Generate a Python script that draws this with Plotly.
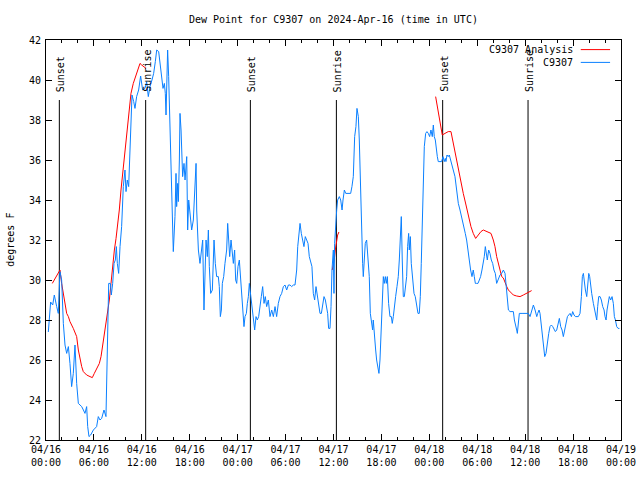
import plotly.graph_objects as go
import pandas as pd

START = pd.Timestamp("2024-04-16 00:00")
END = pd.Timestamp("2024-04-19 00:00")

# ---- observed dew point C9307 (hours since 2024-04-16 00:00 UTC, deg F)
obs_hours = [
    0.29, 0.45, 0.58, 0.84, 1.04, 1.34, 1.54, 1.75, 1.96, 2.17,
    2.38, 2.59, 2.80, 3.0, 3.21, 3.42, 3.63, 3.84, 4.05, 4.26,
    4.47, 4.68, 4.88, 5.09, 5.22, 5.38, 5.59, 5.93, 6.34, 6.55,
    6.76, 6.97, 7.26, 7.51, 7.59, 7.72, 7.85, 8.06, 8.18, 8.35,
    8.52, 8.68, 8.81, 8.93, 9.1, 9.27, 9.47, 9.68, 9.89, 10.02,
    10.18, 10.35, 10.48, 10.6, 10.77, 10.98, 11.14, 11.35, 11.6, 11.85,
    12.1, 12.4, 12.6, 12.81, 13.02, 13.27, 13.48, 13.69, 13.86, 14.11,
    14.27, 14.48, 14.65, 14.82, 14.94, 15.03, 15.11, 15.23, 15.36, 15.53,
    15.65, 15.82, 15.94, 16.07, 16.15, 16.28, 16.36, 16.49, 16.57, 16.7,
    16.78, 16.91, 16.99, 17.11, 17.28, 17.41, 17.62, 17.74, 17.87, 18.03,
    18.24, 18.45, 18.66, 18.79, 18.87, 19.08, 19.28, 19.49, 19.62, 19.78,
    19.91, 20.04, 20.2, 20.33, 20.45, 20.62, 20.83, 21.04, 21.2, 21.37,
    21.58, 21.7, 21.83, 21.96, 22.08, 22.25, 22.41, 22.62, 22.75, 22.87,
    23.0, 23.17, 23.33, 23.46, 23.62, 23.75, 23.88, 24.04, 24.21, 24.33,
    24.46, 24.63, 24.79, 24.92, 25.09, 25.21, 25.34, 25.46, 25.63, 25.8,
    25.96, 26.13, 26.3, 26.46, 26.63, 26.8, 26.96, 27.13, 27.3, 27.46,
    27.63, 27.84, 28.05, 28.26, 28.47, 28.68, 28.88, 29.09, 29.3, 29.51,
    29.72, 29.93, 30.14, 30.35, 30.56, 30.76, 30.97, 31.18, 31.39, 31.52,
    31.68, 31.81, 31.97, 32.14, 32.3, 32.47, 32.64, 32.81, 32.97, 33.14,
    33.3, 33.47, 33.64, 33.81, 33.98, 34.14, 34.31, 34.48, 34.64, 34.81,
    34.98, 35.15, 35.27, 35.39, 35.56, 35.69, 35.81, 35.98, 36.06, 36.14,
    36.27, 36.4, 36.52, 36.73, 36.9, 37.07, 37.19, 37.36, 37.53, 37.73,
    37.94, 38.15, 38.31, 38.48, 38.65, 38.81, 38.94, 39.11, 39.23, 39.4,
    39.52, 39.65, 39.73, 39.86, 39.98, 40.15, 40.32, 40.48, 40.61, 40.78,
    40.9, 40.98, 41.11, 41.28, 41.4, 41.53, 41.69, 41.82, 41.94, 42.11,
    42.24, 42.36, 42.49, 42.61, 42.74, 42.9, 43.07, 43.24, 43.36, 43.49,
    43.61, 43.78, 43.95, 44.11, 44.24, 44.36, 44.49, 44.61, 44.74, 44.87,
    44.99, 45.16, 45.28, 45.41, 45.49, 45.62, 45.74, 45.91, 46.08, 46.24,
    46.41, 46.58, 46.74, 46.87, 46.99, 47.12, 47.24, 47.37, 47.54, 47.7,
    47.87, 48.04, 48.2, 48.37, 48.5, 48.62, 48.75, 48.87, 49.0, 49.12,
    49.33, 49.54, 49.71, 49.87, 50.0, 50.08, 50.21, 50.37, 50.5, 50.67,
    50.83, 51.0, 51.21, 51.42, 51.63, 51.84, 52.0, 52.17, 52.34, 52.5,
    52.67, 52.84, 53.0, 53.17, 53.34, 53.5, 53.63, 53.76, 53.92, 54.09,
    54.26, 54.42, 54.59, 54.76, 54.88, 55.01, 55.13, 55.26, 55.43, 55.59,
    55.76, 55.93, 56.09, 56.26, 56.43, 56.59, 56.76, 56.85, 57.06, 57.27,
    57.48, 57.61, 57.77, 57.9, 58.11, 58.31, 58.52, 58.65, 58.77, 58.94,
    59.02, 59.15, 59.27, 59.61, 59.98, 60.4, 60.61, 60.82, 61.03, 61.24,
    61.45, 61.57, 61.74, 61.86, 61.99, 62.11, 62.28, 62.45, 62.61, 62.78,
    62.95, 63.11, 63.28, 63.45, 63.62, 63.78, 63.95, 64.12, 64.28, 64.45,
    64.62, 64.78, 64.95, 65.12, 65.29, 65.45, 65.62, 65.79, 65.95, 66.12,
    66.29, 66.66, 66.87, 67.04, 67.16, 67.29, 67.41, 67.54, 67.71, 67.83,
    67.96, 68.08, 68.21, 68.33, 68.54, 68.67, 68.83, 68.96, 69.08, 69.21,
    69.38, 69.54, 69.71, 69.88, 70.0, 70.13, 70.25, 70.38, 70.54, 70.71,
    70.88, 71.04, 71.17, 71.3, 71.46, 71.63, 71.8,
]
obs_dewpt = [
    27.4, 28.3, 28.9, 28.75, 29.25, 28.67, 28.33, 30.42, 30.0, 27.83,
    26.75, 26.33, 26.67, 25.83, 24.67, 25.33, 26.75, 24.83, 23.83, 23.75,
    23.67, 23.5, 23.33, 23.67, 22.67, 22.17, 22.25, 22.5, 22.67, 23.17,
    23.0, 23.08, 23.5, 23.17, 24.83, 28.25, 29.83, 29.83, 29.25, 29.83,
    30.83, 31.0, 31.67, 30.83, 30.33, 31.67, 32.67, 34.67, 35.5, 34.42,
    35.0, 34.67, 36.17, 38.17, 39.25, 38.92, 38.58, 39.17, 39.5, 40.2,
    39.5, 39.58, 39.92, 39.17, 39.67, 40.0, 40.33, 40.92, 41.5, 41.42,
    40.83, 39.92, 39.58, 39.83, 39.33, 38.25, 39.17, 41.5, 40.17, 37.67,
    35.83, 32.5, 31.42, 32.5, 33.17, 35.33, 33.67, 34.83, 33.92, 36.0,
    38.33, 37.5, 36.17, 35.17, 35.83, 35.0, 36.17, 32.5, 34.0, 33.33,
    32.5, 33.0, 34.83, 35.83, 33.5, 31.5, 30.83, 31.67, 32.0, 28.5,
    29.83, 32.0, 31.17, 32.5, 30.67, 29.33, 29.5, 32.0, 30.83, 30.17,
    30.17, 29.67, 28.17, 28.5, 29.83, 30.17, 30.83, 31.5, 32.83, 32.17,
    31.17, 32.0, 31.5, 30.83, 31.5, 30.0, 29.83, 30.67, 31.0, 30.33,
    29.67, 29.0, 27.67, 28.17, 28.33, 28.83, 29.17, 29.83, 29.17, 28.67,
    27.83, 27.5, 28.17, 28.0, 28.17, 28.83, 29.17, 29.67, 28.83, 29.17,
    28.67, 29.0, 28.17, 28.5, 28.17, 28.67, 28.17, 28.83, 29.17, 29.33,
    29.67, 29.75, 29.5, 29.75, 29.75, 29.67, 29.75, 29.75, 30.5, 31.67,
    32.5, 32.83, 32.33, 32.0, 31.67, 32.17, 32.0, 31.83, 31.17, 30.83,
    30.67, 29.33, 29.0, 29.67, 29.17, 28.67, 28.33, 28.33, 28.67, 29.17,
    29.0, 28.5, 28.33, 27.58, 27.58, 28.67, 30.5, 31.5, 29.33, 31.83,
    32.83, 33.5, 34.0, 34.17, 34.0, 33.5, 34.0, 34.5, 34.33, 34.33,
    34.33, 34.33, 34.67, 35.17, 37.17, 37.67, 38.58, 38.17, 37.0, 33.83,
    32.0, 30.83, 30.17, 31.0, 31.83, 32.0, 31.17, 30.17, 28.33, 27.83,
    27.5, 28.0, 27.17, 26.5, 26.0, 25.67, 25.33, 26.0, 27.5, 29.17,
    30.17, 29.83, 30.17, 29.83, 30.17, 28.83, 28.17, 28.17, 27.83, 28.17,
    28.67, 29.17, 29.67, 30.17, 31.0, 32.5, 33.17, 31.0, 29.17, 29.17,
    29.5, 30.17, 31.67, 32.33, 31.5, 32.17, 30.83, 29.83, 29.33, 29.17,
    28.83, 28.33, 28.33, 29.17, 30.83, 33.17, 35.33, 36.67, 37.33, 37.42,
    37.33, 37.17, 37.5, 37.17, 37.75, 37.17, 37.0, 36.5, 36.17, 35.92,
    35.92, 35.92, 36.17, 35.92, 36.08, 35.92, 36.25, 36.17, 36.25, 36.0,
    35.83, 35.5, 35.17, 34.5, 33.83, 33.5, 33.17, 32.83, 32.5, 32.33,
    32.0, 31.5, 30.83, 30.5, 30.17, 30.5, 30.17, 29.83, 29.83, 29.83,
    30.0, 30.17, 30.5, 30.83, 31.17, 31.67, 31.33, 31.0, 31.5, 31.33,
    31.0, 30.83, 30.5, 30.33, 29.83, 30.0, 30.17, 30.25, 30.33, 30.5,
    30.33, 29.67, 29.17, 28.5, 28.42, 28.42, 28.42, 28.0, 27.83, 27.5,
    27.33, 28.0, 28.33, 28.33, 28.33, 28.33, 28.17, 28.5, 28.75, 28.5,
    28.17, 28.33, 28.5, 28.33, 27.83, 27.33, 26.5, 26.17, 26.33, 27.0,
    27.33, 27.67, 27.75, 27.67, 27.5, 27.42, 27.5, 27.83, 28.08, 27.67,
    27.5, 27.17, 27.5, 27.83, 28.17, 28.25, 28.33, 28.17, 28.42, 28.25,
    28.17, 28.17, 28.33, 29.17, 30.17, 30.33, 29.83, 29.5, 29.17, 29.83,
    30.33, 30.17, 29.67, 29.33, 28.83, 28.5, 28.17, 28.0, 28.67, 29.17,
    29.17, 29.0, 28.67, 28.5, 28.17, 28.0, 28.5, 28.83, 29.17, 29.0,
    29.17, 28.83, 28.17, 28.0, 27.67, 27.58, 27.58,
]

# ---- analysis (three separate segments)
ana1_hours = [0.79, 1.13, 1.42, 1.75, 1.96, 2.17, 2.38, 2.59, 2.8, 3.0,
              3.42, 3.84, 4.05, 4.26, 4.47, 4.67, 5.09, 5.51, 5.8, 6.05,
              6.35, 6.68, 6.89, 7.09, 7.3, 7.51, 7.72, 7.93, 8.14, 8.35,
              8.56, 8.77, 8.97, 9.18, 9.39, 9.6, 9.81, 10.02, 10.23, 10.44,
              10.64, 10.93, 11.23, 11.56, 11.77, 11.98, 12.19, 12.52]
ana1_dewpt = [29.83, 30.08, 30.33, 30.5, 29.83, 29.33, 28.83, 28.33, 28.17, 27.92,
              27.58, 27.17, 26.5, 26.0, 25.67, 25.42, 25.25, 25.17, 25.12, 25.33,
              25.58, 25.83, 26.17, 26.67, 27.33, 27.83, 28.42, 29.0, 29.83, 30.83,
              31.5, 32.08, 32.67, 33.5, 34.5, 35.33, 36.08, 37.0, 37.83, 38.58,
              39.33, 39.83, 40.17, 40.58, 40.83, 40.75, 40.67, 40.58]
ana2_hours = [35.84, 36.09, 36.26, 36.52, 36.68]
ana2_dewpt = [30.5, 31.0, 31.6, 32.25, 32.4]
ana3_hours = [48.79, 49.12, 49.41, 49.62, 49.96, 50.37, 50.71, 51.0, 51.33, 51.63,
              51.92, 52.25, 52.59, 52.88, 53.21, 53.5, 53.8, 54.13, 54.46, 54.76,
              55.17, 55.72, 56.01, 56.22, 56.43, 56.64, 56.85, 57.06, 57.27, 57.48,
              57.69, 57.9, 58.1, 58.52, 58.94, 59.36, 59.77, 60.19, 60.6, 60.81]
ana3_dewpt = [39.17, 38.33, 37.67, 37.25, 37.33, 37.42, 37.42, 36.83, 36.17, 35.5,
              34.92, 34.33, 33.75, 33.17, 32.67, 32.33, 32.08, 32.25, 32.42, 32.5,
              32.42, 32.33, 32.0, 31.67, 31.17, 30.83, 30.5, 30.17, 30.1, 29.83,
              29.67, 29.5, 29.42, 29.25, 29.2, 29.17, 29.25, 29.33, 29.42, 29.47]

# ---- sun events
sun_hours = [1.67, 12.48, 25.59, 36.36, 49.67, 60.36]
sun_labels = ["Sunset", "Sunrise", "Sunset", "Sunrise", "Sunset", "Sunrise"]
sun_line_top = 39

y_min, y_max, y_step = 22, 42, 2

title_text = "Dew Point for C9307 on 2024-Apr-16 (time in UTC)"
y_title = "degrees F"
legend_names = ["C9307 Analysis", "C9307"]
RED = "#ff0000"
BLUE = "#0a80ff"
FONT = "DejaVu Sans Mono"


def to_time(hours):
    return [START + pd.Timedelta(hours=h) for h in hours]


ana_x, ana_y = [], []
for hs, vs in [(ana1_hours, ana1_dewpt), (ana2_hours, ana2_dewpt), (ana3_hours, ana3_dewpt)]:
    ana_x += to_time(hs) + [None]
    ana_y += list(vs) + [None]

fig = go.Figure()

# sunrise / sunset lines
for h in sun_hours:
    t = START + pd.Timedelta(hours=h)
    fig.add_trace(go.Scatter(x=[t, t], y=[y_min, sun_line_top], mode="lines",
                             line=dict(color="black", width=1),
                             hoverinfo="skip", showlegend=False))

fig.add_trace(go.Scatter(x=ana_x, y=ana_y, mode="lines", name=legend_names[0],
                         line=dict(color=RED, width=1), connectgaps=False,
                         showlegend=False))
fig.add_trace(go.Scatter(x=to_time(obs_hours), y=obs_dewpt, mode="lines",
                         name=legend_names[1], line=dict(color=BLUE, width=1),
                         showlegend=False))

annotations = []
for h, lab in zip(sun_hours, sun_labels):
    annotations.append(dict(x=START + pd.Timedelta(hours=h), y=sun_line_top,
                            xref="x", yref="y", text=lab, textangle=-90,
                            showarrow=False, xanchor="center", yanchor="bottom",
                            yshift=6, xshift=1,
                            font=dict(family=FONT, size=10, color="black")))

# manual legend (text then sample line, gnuplot style)
leg_y = [0.976, 0.944]
leg_col = [RED, BLUE]
shapes = []
for name, yy, col in zip(legend_names, leg_y, leg_col):
    annotations.append(dict(x=0.92, y=yy, xref="paper", yref="paper", text=name,
                            showarrow=False, xanchor="right", yanchor="middle",
                            font=dict(family=FONT, size=10, color="black")))
    shapes.append(dict(type="line", xref="paper", yref="paper",
                       x0=0.930, x1=0.981, y0=yy, y1=yy,
                       line=dict(color=col, width=1)))

annotations.append(dict(x=-0.063, y=0.5, xref="paper", yref="paper", text=y_title,
                        textangle=-90, showarrow=False, xanchor="center",
                        yanchor="middle",
                        font=dict(family=FONT, size=10, color="black")))

fig.update_layout(
    width=640, height=480, autosize=False,
    margin=dict(l=46, r=19, t=40, b=40, autoexpand=False),
    paper_bgcolor="white", plot_bgcolor="white",
    font=dict(family=FONT, size=10, color="black"),
    title=dict(text=title_text, x=0.521, xanchor="center", y=0.96, yanchor="middle",
               font=dict(family=FONT, size=10, color="black")),
    annotations=annotations, shapes=shapes,
    showlegend=False,
    xaxis=dict(type="date", range=[START, END], tickmode="linear", tick0=START,
               dtick=6 * 3600 * 1000, tickformat="%m/%d<br>%H:%M",
               ticks="inside", ticklen=6, tickcolor="black", automargin=False,
               showline=True, linecolor="black", linewidth=1, mirror="allticks",
               showgrid=False, zeroline=False,
               minor=dict(dtick=2 * 3600 * 1000, tick0=START, ticks="inside",
                          ticklen=3, tickcolor="black", showgrid=False),
               tickfont=dict(family=FONT, size=10, color="black")),
    yaxis=dict(range=[y_min, y_max], tickmode="linear", tick0=y_min, dtick=y_step,
               ticks="inside", ticklen=6, tickcolor="black", automargin=False,
               showline=True, linecolor="black", linewidth=1, mirror="allticks",
               showgrid=False, zeroline=False, ticklabelstandoff=2,
               tickfont=dict(family=FONT, size=10, color="black")),
)

fig.write_html("out.html", config={"displayModeBar": False},
               post_script="document.body.style.margin='0';document.body.style.overflow='hidden';")
